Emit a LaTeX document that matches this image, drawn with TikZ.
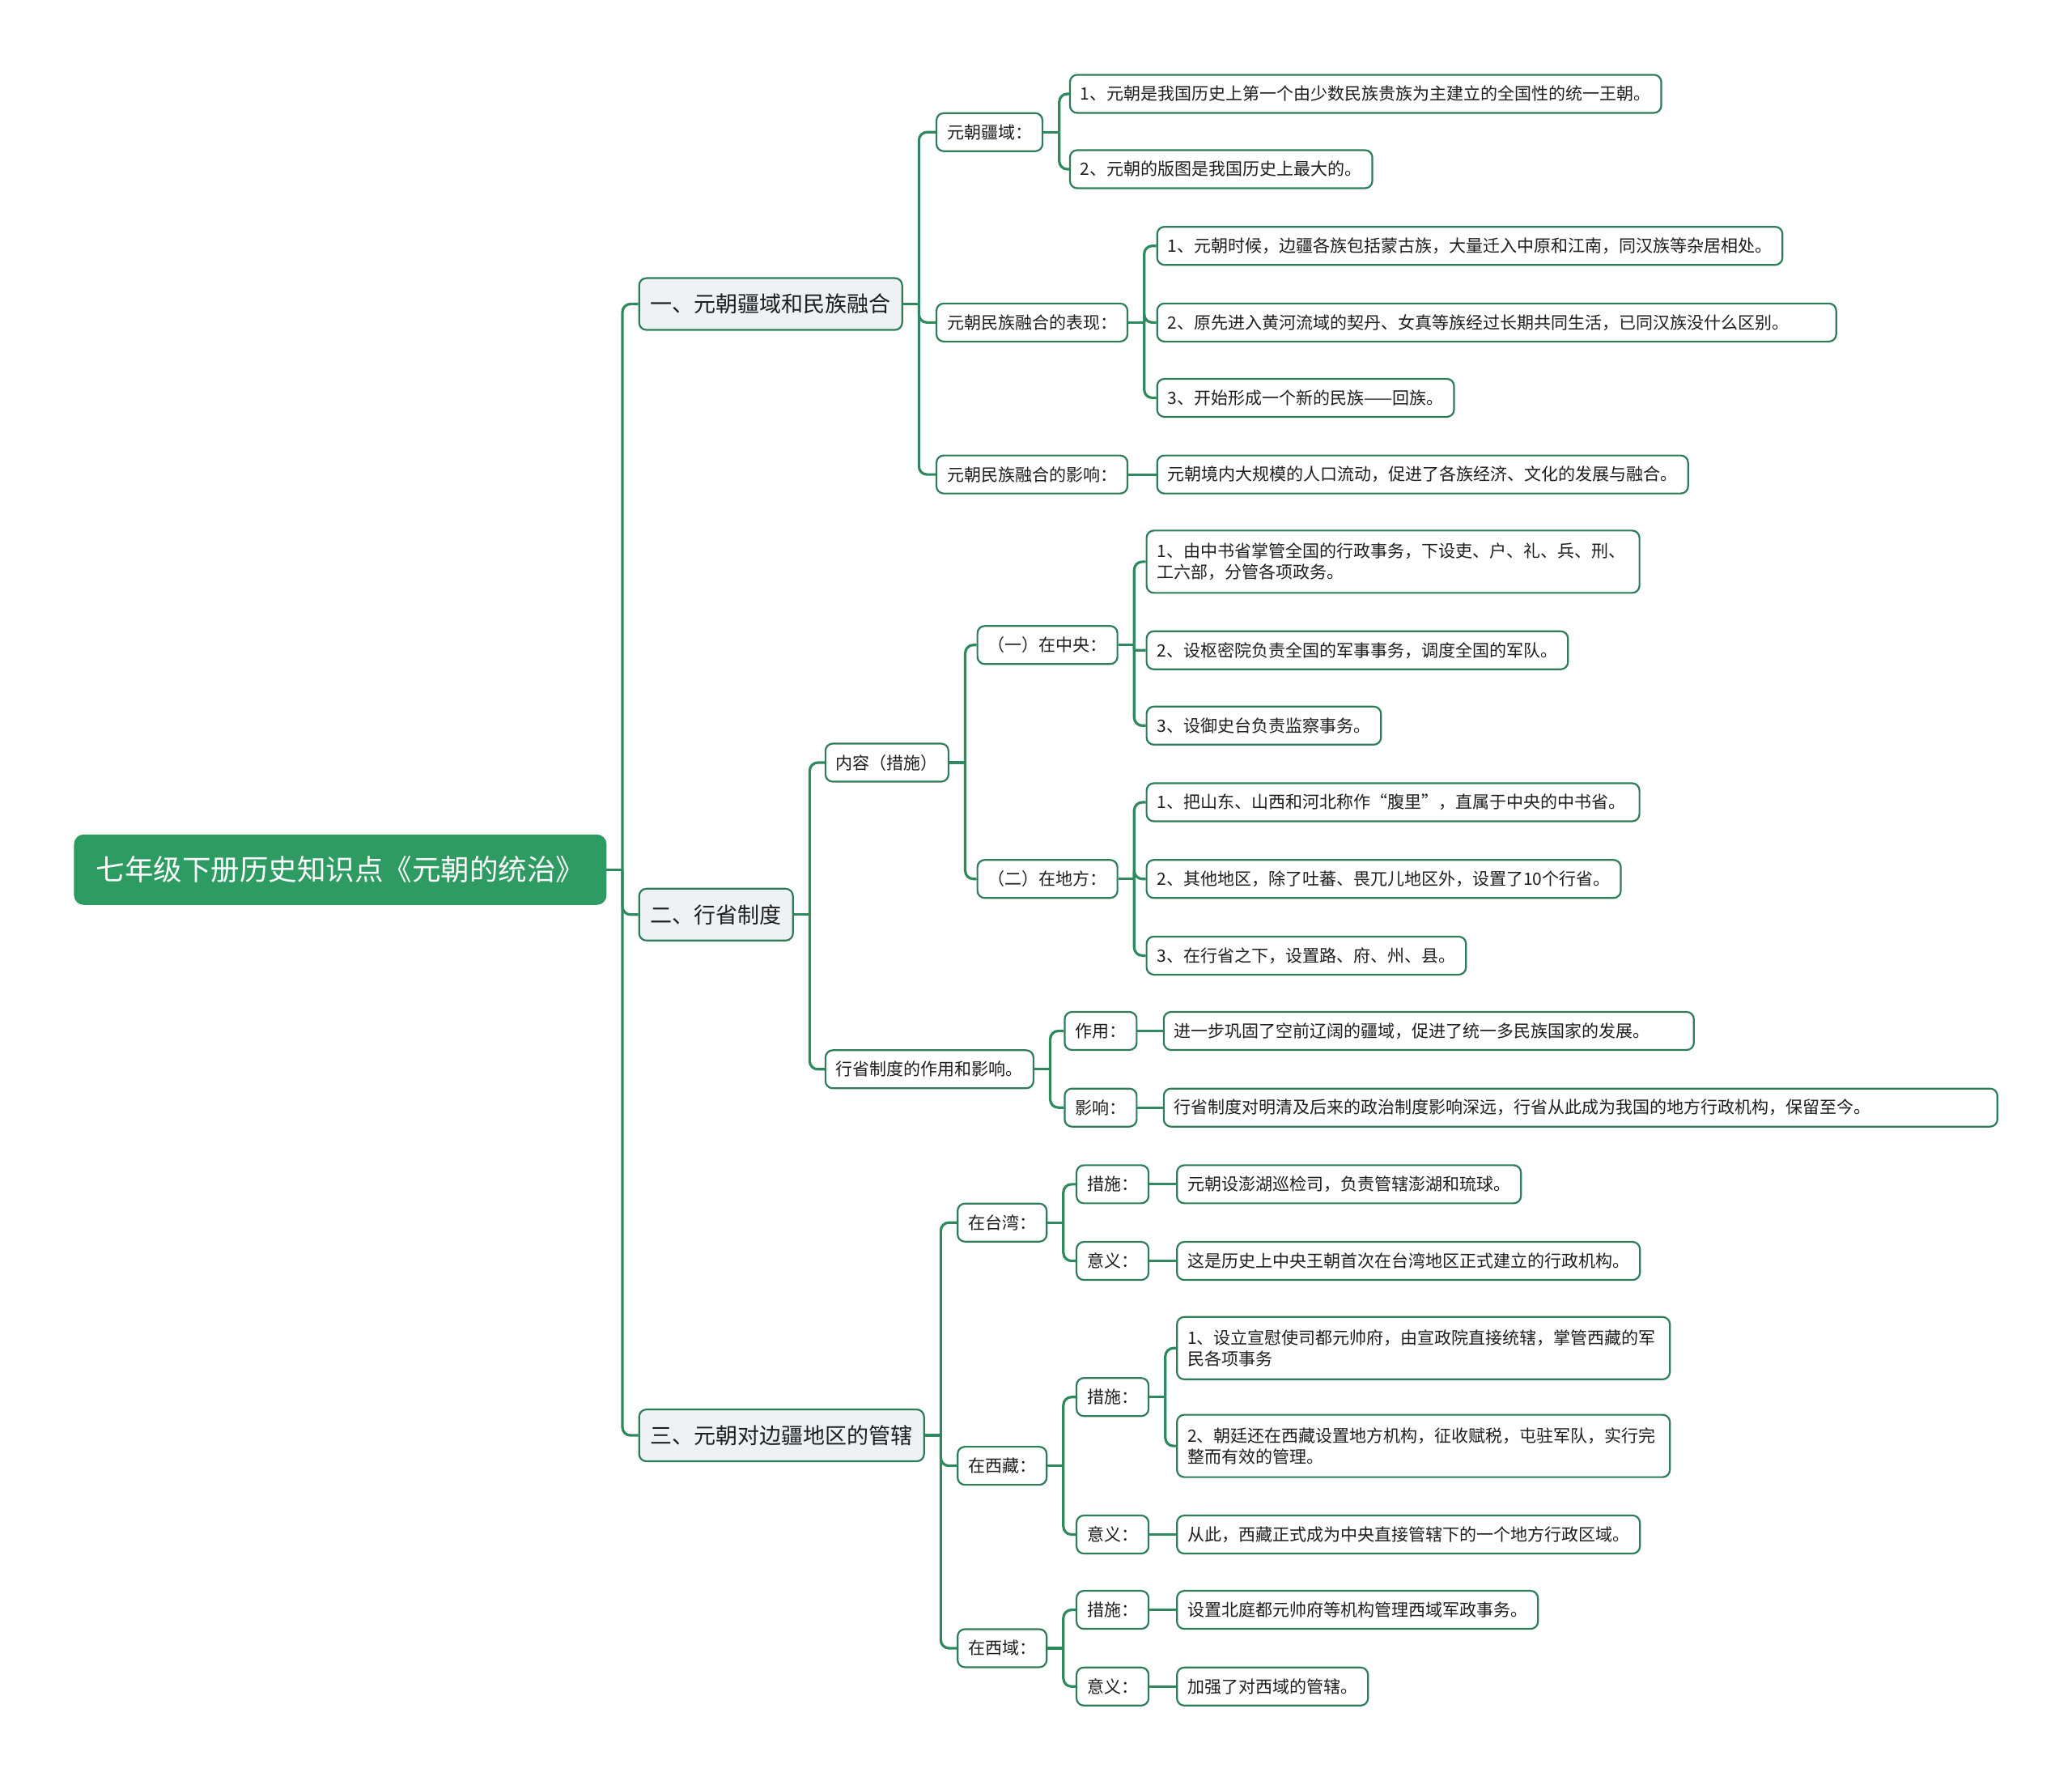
\documentclass[tikz,border=0pt]{standalone}
\usepackage{fontspec}
\setmainfont{Noto Sans CJK SC}
\definecolor{rootg}{HTML}{2E9B63}
\definecolor{bord}{HTML}{2E7D58}
\definecolor{lnc}{HTML}{2E8A5E}
\definecolor{lonef}{HTML}{EEF2F5}
\definecolor{txt}{HTML}{1E1E1E}
\tikzset{
  leaf/.style={draw=bord, line width=2.2pt, fill=white, rounded corners=9pt, anchor=west,
    inner xsep=13pt, inner ysep=0pt, minimum height=47pt, text=txt,
    font=\fontsize{21pt}{26pt}\selectfont},
  twoline/.style={leaf, text width=583pt, align=left, minimum height=77pt},
  widebox/.style={leaf, text width=#1, align=left},
  lone/.style={leaf, fill=lonef, inner xsep=14pt, minimum height=64pt,
    font=\fontsize{27pt}{32pt}\selectfont},
  rootn/.style={draw=rootg, fill=rootg, line width=2pt, rounded corners=11pt, anchor=west,
    text=white, minimum width=656pt, minimum height=85pt, inner xsep=0pt,
    font=\fontsize{35.5pt}{40pt}\selectfont},
  conn/.style={draw=lnc, line width=3.2pt},
}
\newcommand\spn[2]{%
  \path (#1.east) ++(12,0) coordinate (#1-s);
  \draw[conn] (#1.east) -- (#1-s);
  \foreach \c in {#2} {\draw[conn, rounded corners=10pt] (#1-s) |- (\c.west);}%
}
\begin{document}
\begin{tikzpicture}[x=1.6327pt, y=-1.6327pt]
\useasboundingbox (0,0) rectangle (1568,1347);

% root
\node[rootn] (root) at (56,658) {七年级下册历史知识点《元朝的统治》};

% level 1
\node[lone] (a) at (483,230) {一、元朝疆域和民族融合};
\node[lone] (b) at (483,692) {二、行省制度};
\node[lone] (c) at (483,1086) {三、元朝对边疆地区的管辖};

% branch a
\node[leaf] (a1) at (708,100) {元朝疆域：};
\node[leaf] (a2) at (708,244) {元朝民族融合的表现：};
\node[leaf] (a3) at (708,359) {元朝民族融合的影响：};
\node[leaf] (a11) at (809,71) {1、元朝是我国历史上第一个由少数民族贵族为主建立的全国性的统一王朝。};
\node[leaf] (a12) at (809,128) {2、元朝的版图是我国历史上最大的。};
\node[leaf] (a21) at (875,186) {1、元朝时候，边疆各族包括蒙古族，大量迁入中原和江南，同汉族等杂居相处。};
\node[widebox=813pt] (a22) at (875,244) {2、原先进入黄河流域的契丹、女真等族经过长期共同生活，已同汉族没什么区别。};
\node[leaf] (a23) at (875,301) {3、开始形成一个新的民族——回族。};
\node[leaf] (a31) at (875,359) {元朝境内大规模的人口流动，促进了各族经济、文化的发展与融合。};

% branch b
\node[leaf] (b1) at (624,577) {内容（措施）};
\node[leaf] (b2) at (624,809) {行省制度的作用和影响。};
\node[leaf] (b11) at (739,488) {（一）在中央：};
\node[leaf] (b12) at (739,665) {（二）在地方：};
\node[twoline] (b111) at (867,425) {1、由中书省掌管全国的行政事务，下设吏、户、礼、兵、刑、\\工六部，分管各项政务。};
\node[leaf] (b112) at (867,492) {2、设枢密院负责全国的军事事务，调度全国的军队。};
\node[leaf] (b113) at (867,549) {3、设御史台负责监察事务。};
\node[widebox=583pt] (b121) at (867,607) {1、把山东、山西和河北称作“腹里”，直属于中央的中书省。};
\node[leaf] (b122) at (867,665) {2、其他地区，除了吐蕃、畏兀儿地区外，设置了10个行省。};
\node[leaf] (b123) at (867,723) {3、在行省之下，设置路、府、州、县。};
\node[leaf] (b21) at (805,780) {作用：};
\node[leaf] (b22) at (805,838) {影响：};
\node[widebox=629pt] (b211) at (880,780) {进一步巩固了空前辽阔的疆域，促进了统一多民族国家的发展。};
\node[widebox=1004pt] (b221) at (880,838) {行省制度对明清及后来的政治制度影响深远，行省从此成为我国的地方行政机构，保留至今。};

% branch c
\node[leaf] (c1) at (724,925) {在台湾：};
\node[leaf] (c2) at (724,1109) {在西藏：};
\node[leaf] (c3) at (724,1247) {在西域：};
\node[leaf] (c11) at (814,896) {措施：};
\node[leaf] (c12) at (814,954) {意义：};
\node[leaf] (c111) at (890,896) {元朝设澎湖巡检司，负责管辖澎湖和琉球。};
\node[leaf] (c121) at (890,954) {这是历史上中央王朝首次在台湾地区正式建立的行政机构。};
\node[leaf] (c21) at (814,1057) {措施：};
\node[leaf] (c22) at (814,1161) {意义：};
\node[twoline] (c211) at (890,1020) {1、设立宣慰使司都元帅府，由宣政院直接统辖，掌管西藏的军\\民各项事务};
\node[twoline] (c212) at (890,1094) {2、朝廷还在西藏设置地方机构，征收赋税，屯驻军队，实行完\\整而有效的管理。};
\node[leaf] (c221) at (890,1161) {从此，西藏正式成为中央直接管辖下的一个地方行政区域。};
\node[leaf] (c31) at (814,1218) {措施：};
\node[leaf] (c32) at (814,1276) {意义：};
\node[leaf] (c311) at (890,1218) {设置北庭都元帅府等机构管理西域军政事务。};
\node[leaf] (c321) at (890,1276) {加强了对西域的管辖。};

% connectors
\spn{root}{a,b,c}
\spn{a}{a1,a2,a3}
\spn{a1}{a11,a12}
\spn{a2}{a21,a22,a23}
\draw[conn] (a3.east) -- (a31.west);
\spn{b}{b1,b2}
\spn{b1}{b11,b12}
\spn{b11}{b111,b113}
\draw[conn, rounded corners=2pt] (b11-s) |- (b112.west);
\spn{b12}{b121,b122,b123}
\spn{b2}{b21,b22}
\draw[conn] (b21.east) -- (b211.west);
\draw[conn] (b22.east) -- (b221.west);
\spn{c}{c1,c2,c3}
\spn{c1}{c11,c12}
\draw[conn] (c11.east) -- (c111.west);
\draw[conn] (c12.east) -- (c121.west);
\spn{c2}{c21,c22}
\spn{c21}{c211,c212}
\draw[conn] (c22.east) -- (c221.west);
\spn{c3}{c31,c32}
\draw[conn] (c31.east) -- (c311.west);
\draw[conn] (c32.east) -- (c321.west);
\end{tikzpicture}
\end{document}
